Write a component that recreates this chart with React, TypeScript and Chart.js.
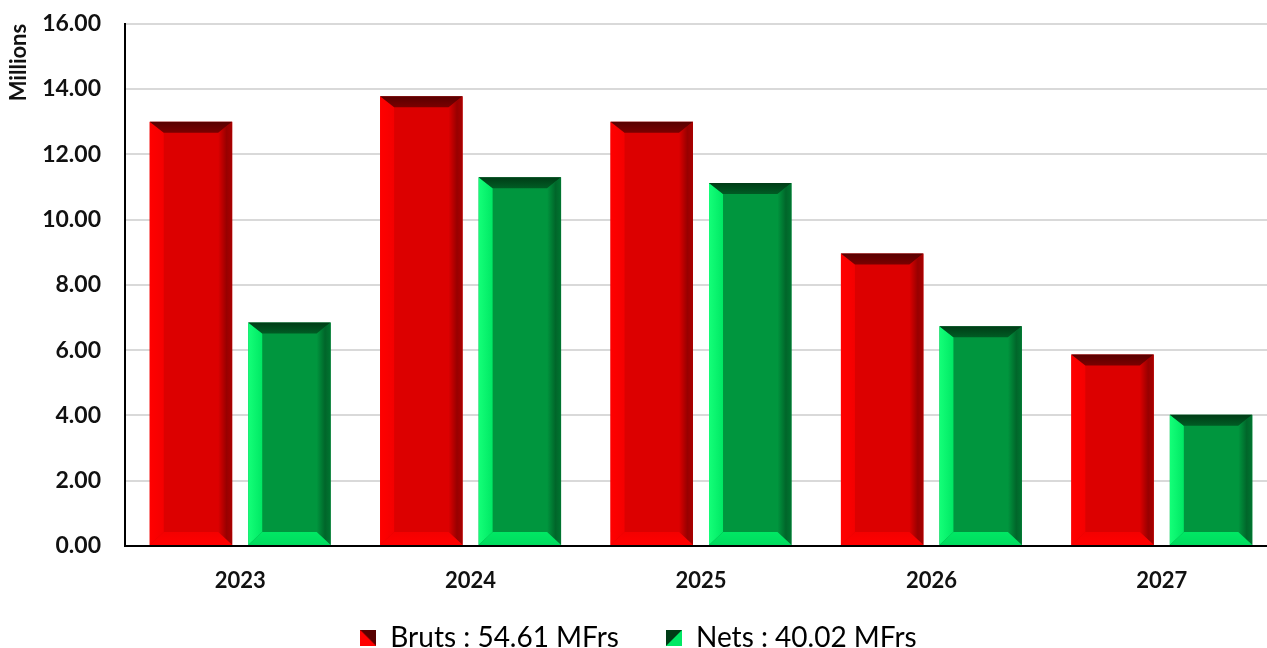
import React, { useEffect, useRef } from "react";
import { Chart, registerables } from "chart.js";

Chart.register(...registerables);

const categories = ["2023", "2024", "2025", "2026", "2027"];
const brutsValues = [13.0, 13.78, 13.0, 8.96, 5.87];
const netsValues = [6.85, 11.3, 11.12, 6.73, 4.02];
const seriesLabels = ["Bruts : 54.61 MFrs", "Nets : 40.02 MFrs"];
const yTicks = [0, 2, 4, 6, 8, 10, 12, 14, 16];

const FONT = "Lato, 'Liberation Sans', sans-serif";

const palettes = [
  { main: "#DC0000", left: "#F40000", leftEdge: "#FF0000", right: "#980000", rightEdge: "#A80000", top: "#580000", topIn: "#7A0000", bottom: "#FF0000" },
  { main: "#00963E", left: "#00E864", leftEdge: "#14FF78", right: "#00662A", rightEdge: "#007530", top: "#003C16", topIn: "#005C24", bottom: "#00DC5E" },
];

function legendIcon(p: any, flip: boolean) {
  const c = document.createElement("canvas");
  c.width = 16;
  c.height = 16;
  const ctx = c.getContext("2d")!;
  ctx.fillStyle = flip ? p.left : p.leftEdge;
  ctx.fillRect(0, 0, 16, 16);
  ctx.fillStyle = p.top;
  ctx.beginPath();
  if (flip) {
    ctx.moveTo(0, 0);
    ctx.lineTo(16, 0);
    ctx.lineTo(0, 16);
  } else {
    ctx.moveTo(0, 0);
    ctx.lineTo(16, 0);
    ctx.lineTo(16, 16);
  }
  ctx.closePath();
  ctx.fill();
  return c;
}

const legendShiftPlugin = {
  id: "legendShift",
  beforeDraw(chart: any) {
    const lg = chart.legend;
    if (lg && !lg._shifted) {
      lg.top -= 19;
      lg.bottom -= 19;
      lg._shifted = true;
    }
  },
};

const bevelPlugin = {
  id: "bevel",
  afterDatasetsDraw(chart: any) {
    const ctx = chart.ctx;
    chart.data.datasets.forEach((ds: any, di: number) => {
      const meta = chart.getDatasetMeta(di);
      const p = palettes[di];
      meta.data.forEach((bar: any) => {
        const L = bar.x - bar.width / 2;
        const R = bar.x + bar.width / 2;
        const T = Math.min(bar.y, bar.base);
        const B = Math.max(bar.y, bar.base);
        const bs = 14;
        const bt = 11;
        const bb = 13;
        ctx.save();
        // left
        let g = ctx.createLinearGradient(L, 0, L + bs, 0);
        g.addColorStop(0, p.leftEdge);
        g.addColorStop(1, p.left);
        ctx.fillStyle = g;
        ctx.beginPath();
        ctx.moveTo(L, T);
        ctx.lineTo(L + bs, T + bt);
        ctx.lineTo(L + bs, B - bb);
        ctx.lineTo(L, B);
        ctx.closePath();
        ctx.fill();
        // right
        g = ctx.createLinearGradient(R - bs, 0, R, 0);
        g.addColorStop(0, p.main);
        g.addColorStop(0.6, p.right);
        g.addColorStop(1, p.rightEdge);
        ctx.fillStyle = g;
        ctx.beginPath();
        ctx.moveTo(R, T);
        ctx.lineTo(R, B);
        ctx.lineTo(R - bs, B - bb);
        ctx.lineTo(R - bs, T + bt);
        ctx.closePath();
        ctx.fill();
        // bottom
        g = ctx.createLinearGradient(0, B - bb, 0, B);
        g.addColorStop(0, p.left);
        g.addColorStop(1, p.bottom);
        ctx.fillStyle = g;
        ctx.beginPath();
        ctx.moveTo(L, B);
        ctx.lineTo(L + bs, B - bb);
        ctx.lineTo(R - bs, B - bb);
        ctx.lineTo(R, B);
        ctx.closePath();
        ctx.fill();
        // top
        g = ctx.createLinearGradient(0, T, 0, T + bt);
        g.addColorStop(0, p.top);
        g.addColorStop(1, p.topIn);
        ctx.fillStyle = g;
        ctx.beginPath();
        ctx.moveTo(L, T);
        ctx.lineTo(R, T);
        ctx.lineTo(R - bs, T + bt);
        ctx.lineTo(L + bs, T + bt);
        ctx.closePath();
        ctx.fill();
        ctx.restore();
      });
    });
  },
};

export default function App() {
  const ref = useRef<HTMLCanvasElement>(null);
  useEffect(() => {
    document.body.style.margin = "0";
    const chart = new Chart(ref.current!, {
      type: "bar",
      data: {
        labels: categories,
        datasets: [
          { label: seriesLabels[0], data: brutsValues, backgroundColor: palettes[0].main, pointStyle: legendIcon(palettes[0], false) as any },
          { label: seriesLabels[1], data: netsValues, backgroundColor: palettes[1].main, pointStyle: legendIcon(palettes[1], true) as any },
        ],
      },
      plugins: [bevelPlugin, legendShiftPlugin],
      options: {
        animation: false,
        responsive: false,
        maintainAspectRatio: false,
        layout: { padding: { top: 5, right: 0, left: 0, bottom: 0 } },
        datasets: { bar: { categoryPercentage: 0.855, barPercentage: 0.837 } },
        scales: {
          x: {
            grid: { display: false, drawTicks: false },
            border: { color: "#000", width: 2 },
            ticks: { color: "#111", font: { family: FONT, size: 22, weight: "bold" }, padding: 22 },
            afterFit: (s: any) => { s.height = 50; },
          },
          y: {
            min: 0,
            max: 16,
            afterBuildTicks: (s: any) => { s.ticks = yTicks.map((v) => ({ value: v })); },
            grid: { color: "#D9D9D9", lineWidth: 2, drawTicks: false },
            border: { color: "#000", width: 2 },
            ticks: {
              color: "#111",
              font: { family: FONT, size: 23, weight: "bold" },
              padding: 24,
              callback: (v: any) => Number(v).toFixed(2),
            },
            title: { display: true, text: "Millions", align: "end", color: "#111", font: { family: FONT, size: 22, weight: "bold" }, padding: { top: 6, bottom: 0 } },
            afterFit: (s: any) => { s.width = 125; },
          },
        },
        plugins: {
          legend: {
            position: "bottom",
            labels: {
              usePointStyle: true,
              color: "#000",
              font: { family: FONT, size: 28 },
              padding: 47,
              boxWidth: 16,
              boxHeight: 16,
            },
          },
          tooltip: { enabled: false },
        },
      },
    });
    return () => chart.destroy();
  }, []);
  return (
    <div style={{ position: "absolute", left: 0, top: 0, width: 1267, height: 648, overflow: "hidden", background: "#fff" }}>
      <canvas ref={ref} width={1277} height={695} style={{ position: "absolute", left: 0, top: -14 }} />
    </div>
  );
}
